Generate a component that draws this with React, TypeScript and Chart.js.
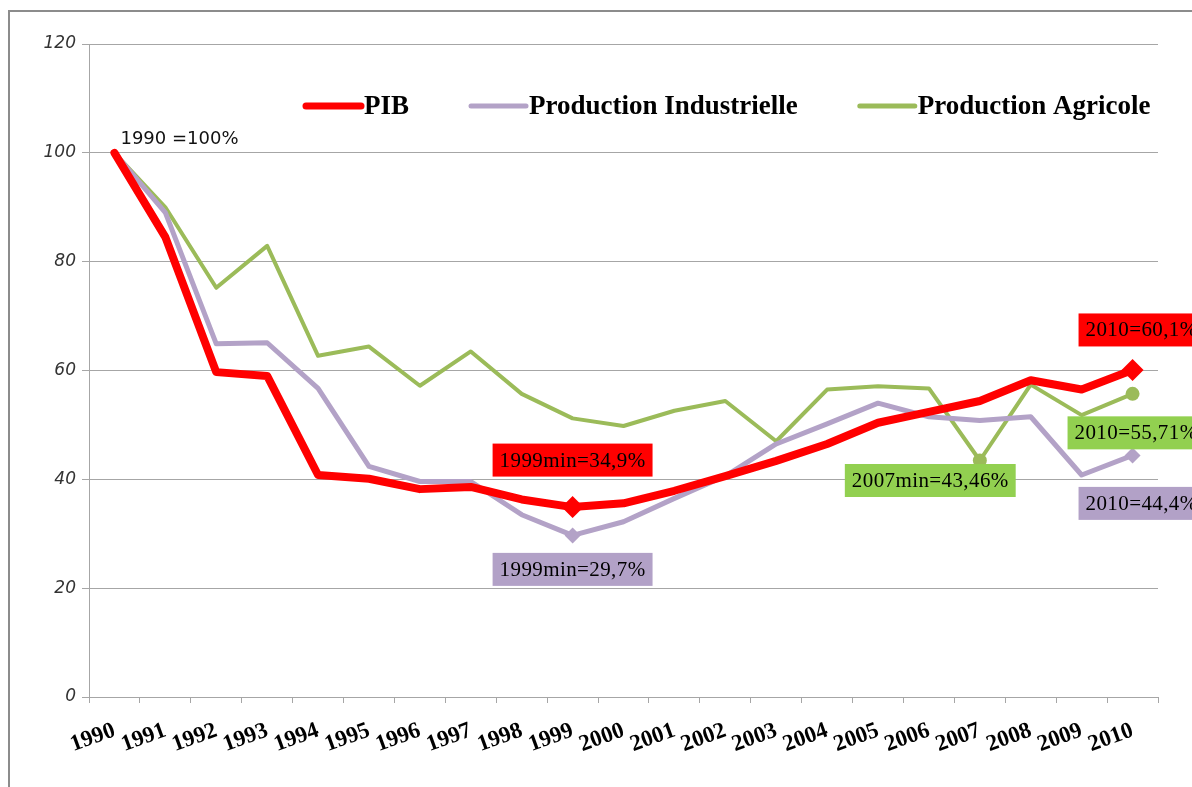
import React, { useEffect, useRef } from 'react';
import { Chart, registerables } from 'chart.js';
Chart.register(...registerables);

const years = ['1990','1991','1992','1993','1994','1995','1996','1997','1998','1999','2000','2001','2002','2003','2004','2005','2006','2007','2008','2009','2010'];
const pibValues = [100, 84.5, 59.7, 59.0, 40.8, 40.1, 38.2, 38.6, 36.3, 34.9, 35.6, 37.9, 40.6, 43.4, 46.5, 50.4, 52.4, 54.4, 58.2, 56.5, 60.1];
const industrieValues = [100, 89, 64.9, 65.1, 56.7, 42.4, 39.6, 39.6, 33.5, 29.7, 32.2, 36.5, 40.6, 46.5, 50.2, 54.0, 51.5, 50.8, 51.5, 40.8, 44.4];
const agricoleValues = [100, 90, 75.2, 82.9, 62.7, 64.4, 57.2, 63.5, 55.7, 51.2, 49.8, 52.6, 54.4, 47.0, 56.5, 57.1, 56.7, 43.46, 57.4, 51.8, 55.71];
const seriesLabels = ['PIB', 'Production Industrielle', 'Production Agricole'];
const yMin = 0;
const yMax = 120;
const yStep = 20;

const pibMarkers = [9, 20];
const industrieMarkers = [9, 20];
const agricoleMarkers = [17, 20];

const noteTexts = ['1999min=34,9%', '1999min=29,7%', '2007min=43,46%', '2010=60,1%', '2010=55,71%', '2010=44,4%'];
const noteSeries = [0, 1, 2, 0, 2, 1];
const noteIndex = [9, 9, 17, 20, 20, 20];
const baseNote = '1990 =100%';

const COLORS = ['#FF0000', '#B3A2C7', '#9BBB59'];
const BOX_COLORS = ['#FF0000', '#B2A1C7', '#92D050'];
const WIDTHS = [8, 5, 4];
const LEGEND_WIDTHS = [7, 5, 5];
// box left / vertical centre offsets relative to the anchored point (pixels)
const NOTE_OFFSETS = [[-80, -47], [-80, 34], [-135, 20], [-54, -40], [-65, 39], [-54, 48]];

const decorPlugin = {
  id: 'decor',
  beforeDraw(chart: any) {
    const ctx = chart.ctx;
    ctx.save();
    ctx.strokeStyle = '#8C8C8C';
    ctx.lineWidth = 2;
    ctx.beginPath();
    ctx.moveTo(9, 787);
    ctx.lineTo(9, 11);
    ctx.lineTo(1192, 11);
    ctx.stroke();
    ctx.restore();
  },
  afterDatasetsDraw(chart: any) {
    const ctx = chart.ctx;
    const xs = chart.scales.x;
    const ys = chart.scales.y;
    const area = chart.chartArea;
    ctx.save();
    // legend
    let lx = area.left + 214;
    const ly = 106;
    ctx.font = 'bold 27px "Liberation Serif", serif';
    ctx.textBaseline = 'middle';
    ctx.textAlign = 'left';
    seriesLabels.forEach((lab, i) => {
      ctx.strokeStyle = COLORS[i];
      ctx.lineWidth = LEGEND_WIDTHS[i];
      ctx.lineCap = 'round';
      ctx.beginPath();
      ctx.moveTo(lx + 3, ly);
      ctx.lineTo(lx + 58, ly);
      ctx.stroke();
      lx += 61;
      ctx.fillStyle = '#000';
      ctx.fillText(lab, lx, ly + 1);
      lx += ctx.measureText(lab).width + 59;
    });
    // base note
    ctx.font = '18px "DejaVu Sans", sans-serif';
    ctx.fillStyle = '#111';
    ctx.textBaseline = 'middle';
    ctx.fillText(baseNote, xs.getPixelForValue(0) + 6, ys.getPixelForValue(pibValues[0]) - 14);
    // boxed notes
    const all = [pibValues, industrieValues, agricoleValues];
    ctx.font = '21px "Liberation Serif", serif';
    (ctx as any).letterSpacing = '0.4px';
    noteTexts.forEach((t, k) => {
      const s = noteSeries[k];
      const idx = noteIndex[k];
      const px = xs.getPixelForValue(idx);
      const py = ys.getPixelForValue(all[s][idx]);
      const left = px + NOTE_OFFSETS[k][0];
      const cy = py + NOTE_OFFSETS[k][1];
      const w = ctx.measureText(t).width + 14;
      const h = 33;
      ctx.fillStyle = BOX_COLORS[s];
      ctx.fillRect(left, cy - h / 2, w, h);
      ctx.fillStyle = '#000';
      ctx.fillText(t, left + 7, cy + 1);
    });
    ctx.restore();
  },
};

function markerRadius(list: number[], r: number, base = 0) {
  return (c: any) => (list.includes(c.dataIndex) ? r : c.dataIndex === 0 ? base : 0);
}

export default function App() {
  const ref = useRef<HTMLCanvasElement | null>(null);
  useEffect(() => {
    if (!ref.current) return;
    const chart = new Chart(ref.current, {
      type: 'line',
      data: {
        labels: years,
        datasets: [
          {
            label: seriesLabels[0],
            data: pibValues,
            borderColor: COLORS[0],
            backgroundColor: COLORS[0],
            borderWidth: WIDTHS[0],
            pointStyle: (c: any) => (c.dataIndex === 0 ? 'circle' : 'rectRot'),
            pointRadius: markerRadius(pibMarkers, 11, 3),
            pointBorderWidth: 0,
            borderJoinStyle: 'round',
            borderCapStyle: 'round',
            order: 1,
          },
          {
            label: seriesLabels[1],
            data: industrieValues,
            borderColor: COLORS[1],
            backgroundColor: COLORS[1],
            borderWidth: WIDTHS[1],
            pointStyle: 'rectRot',
            pointRadius: markerRadius(industrieMarkers, 8),
            pointBorderWidth: 0,
            borderJoinStyle: 'round',
            order: 2,
          },
          {
            label: seriesLabels[2],
            data: agricoleValues,
            borderColor: COLORS[2],
            backgroundColor: COLORS[2],
            borderWidth: WIDTHS[2],
            pointStyle: 'circle',
            pointRadius: markerRadius(agricoleMarkers, 7),
            pointBorderWidth: 0,
            borderJoinStyle: 'round',
            order: 3,
          },
        ],
      },
      options: {
        responsive: false,
        animation: false,
        layout: { padding: { left: 0, top: 44, right: 34, bottom: 0 } },
        plugins: { legend: { display: false }, tooltip: { enabled: false } },
        scales: {
          x: {
            offset: true,
            grid: { offset: true, drawOnChartArea: false, drawTicks: true, tickLength: 6, color: '#A6A6A6', lineWidth: 1 },
            border: { display: true, color: '#A6A6A6', width: 1 },
            ticks: {
              minRotation: 20,
              maxRotation: 20,
              autoSkip: false,
              padding: 14,
              color: '#000',
              font: { family: '"Liberation Serif", serif', size: 23, weight: 'bold' },
            },
            afterFit: (s: any) => { s.height = 90; },
          },
          y: {
            min: yMin,
            max: yMax,
            ticks: {
              stepSize: yStep,
              padding: 6,
              color: '#333',
              font: { family: '"DejaVu Sans", sans-serif', size: 17, style: 'italic' },
            },
            grid: { color: '#A6A6A6', lineWidth: 1, tickLength: 7 },
            border: { display: true, color: '#A6A6A6', width: 1 },
            afterFit: (s: any) => { s.width = 89; },
          },
        },
      },
      plugins: [decorPlugin],
    } as any);
    return () => chart.destroy();
  }, []);
  return (
    <div style={{ position: 'absolute', left: 0, top: 0, width: 1192, height: 787, background: '#fff' }}>
      <canvas ref={ref} width={1192} height={787} style={{ display: 'block' }} />
    </div>
  );
}
